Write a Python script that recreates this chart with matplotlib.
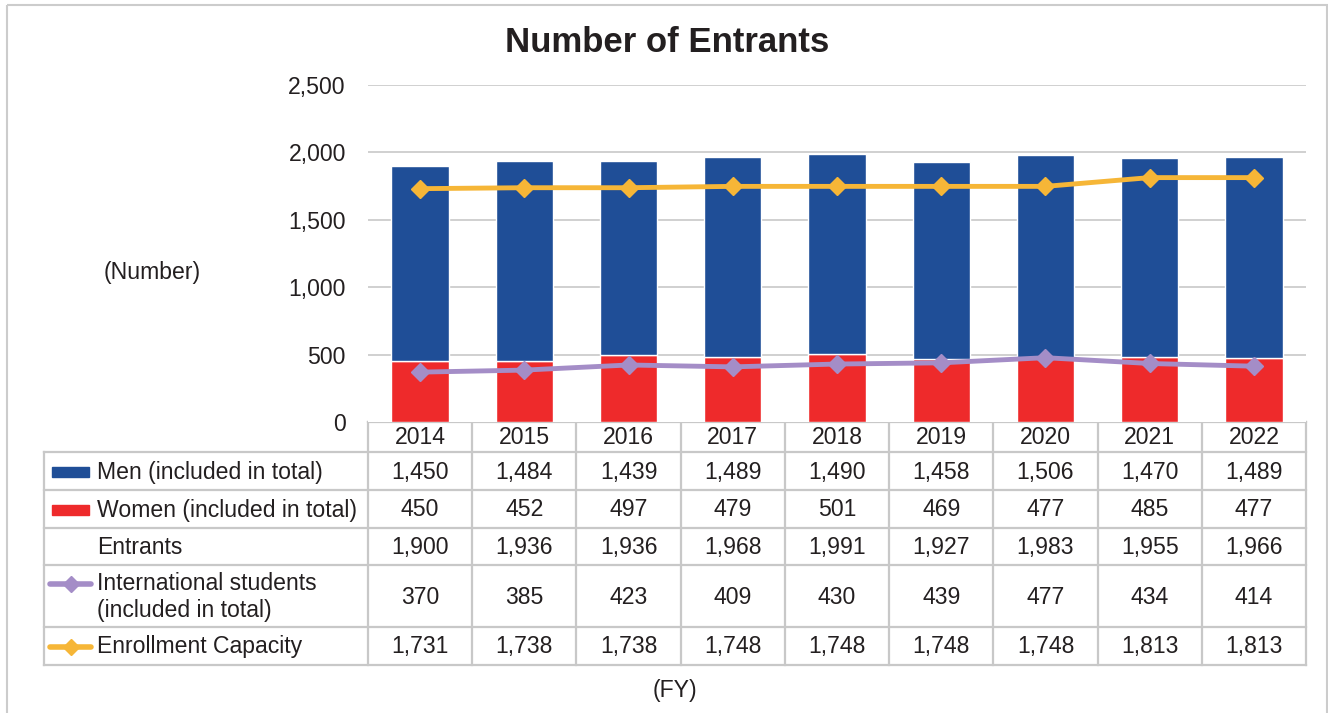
import numpy as np
import matplotlib.pyplot as plt
from matplotlib.patches import Rectangle

plt.rcParams['font.family'] = ['Liberation Sans', 'DejaVu Sans']

years = ['2014', '2015', '2016', '2017', '2018', '2019', '2020', '2021', '2022']
men = [1450, 1484, 1439, 1489, 1490, 1458, 1506, 1470, 1489]
women = [450, 452, 497, 479, 501, 469, 477, 485, 477]
entrants = [1900, 1936, 1936, 1968, 1991, 1927, 1983, 1955, 1966]
intl = [370, 385, 423, 409, 430, 439, 477, 434, 414]
capacity = [1731, 1738, 1738, 1748, 1748, 1748, 1748, 1813, 1813]

c_men = '#1F4E97'
c_women = '#EE2A2B'
c_intl = '#A48DC7'
c_cap = '#F6B637'
c_grid = '#C8C8C8'
c_text = '#231F20'
fs = 16.6

W, H = 1328, 713
fig = plt.figure(figsize=(W / 100, H / 100), dpi=100)

# pixel layout of plot area / table
x0, x1 = 368, 1306
y_zero, y_top = 422, 85
lab_x0 = 44
row_edges = [422, 452, 490, 528, 565, 627, 665]

ax = fig.add_axes([x0 / W, (H - y_zero) / H, (x1 - x0) / W, (y_zero - y_top) / H])
x = np.arange(len(years))
ax.bar(x, women, width=0.55, color=c_women, edgecolor='white', linewidth=1, zorder=2)
ax.bar(x, men, width=0.55, bottom=women, color=c_men, edgecolor='white', linewidth=1, zorder=2)
ax.plot(x, intl, color=c_intl, lw=3.5, marker='D', ms=9, zorder=3)
ax.plot(x, capacity, color=c_cap, lw=3.5, marker='D', ms=9, zorder=3)

ax.set_xlim(-0.5, len(years) - 0.5)
ax.set_ylim(0, 2500)
ax.set_yticks(np.arange(0, 2501, 500))
ax.set_yticklabels([f'{v:,}' for v in range(0, 2501, 500)], fontsize=fs, color=c_text)
ax.tick_params(axis='y', length=0, pad=16)
ax.set_xticks([])
for s in ax.spines.values():
    s.set_visible(False)
for v in range(500, 2501, 500):
    ax.axhline(v, color=c_grid, lw=1.2, zorder=1)

# overlay in pixel coordinates for table, titles, border
ov = fig.add_axes([0, 0, 1, 1], zorder=-1)
ov.set_xlim(0, W)
ov.set_ylim(H, 0)
ov.axis('off')

ov.add_patch(Rectangle((7, 5), 1320, 720, fill=False, edgecolor='#CCCCCC', lw=1.5))

ov.text(667, 43, 'Number of Entrants', ha='center', va='center', fontsize=25,
        fontweight='bold', color=c_text)
ov.text(152, 272, '(Number)', ha='center', va='center', fontsize=fs, color=c_text)
ov.text(675, 690, '(FY)', ha='center', va='center', fontsize=fs, color=c_text)

col_w = (x1 - x0) / len(years)
lc = '#C8C8C8'
lw_t = 1.6
# horizontal lines
ov.plot([x0, x1], [row_edges[0]] * 2, color=lc, lw=lw_t)
for ye in row_edges[1:]:
    ov.plot([lab_x0, x1], [ye, ye], color=lc, lw=lw_t)
# vertical lines
ov.plot([lab_x0, lab_x0], [row_edges[1], row_edges[-1]], color=lc, lw=lw_t)
for i in range(len(years) + 1):
    xe = x0 + i * col_w
    ov.plot([xe, xe], [row_edges[0], row_edges[-1]], color=lc, lw=lw_t)

rows = [men, women, entrants, intl, capacity]
for i, yr in enumerate(years):
    cx = x0 + (i + 0.5) * col_w
    ov.text(cx, (row_edges[0] + row_edges[1]) / 2 + 1, yr, ha='center', va='center',
            fontsize=fs, color=c_text)
    for r, vals in enumerate(rows):
        cy = (row_edges[r + 1] + row_edges[r + 2]) / 2 + 1
        ov.text(cx, cy, f'{vals[i]:,}', ha='center', va='center', fontsize=fs, color=c_text)

labels = ['Men (included in total)', 'Women (included in total)', 'Entrants',
          'International students\n(included in total)', 'Enrollment Capacity']
for r, lab in enumerate(labels):
    cy = (row_edges[r + 1] + row_edges[r + 2]) / 2 + 1
    ov.text(97, cy, lab, ha='left', va='center', fontsize=fs, color=c_text, linespacing=1.2)
    if r == 0:
        ov.add_patch(Rectangle((52, cy - 5), 37, 10, color=c_men))
    elif r == 1:
        ov.add_patch(Rectangle((52, cy - 5), 37, 10, color=c_women))
    elif r in (3, 4):
        col = c_intl if r == 3 else c_cap
        ly = row_edges[r + 1] + 19 if r == 3 else cy
        ov.plot([50, 91], [ly, ly], color=col, lw=4, solid_capstyle='round')
        ov.plot([70.5], [ly], marker='D', ms=8, color=col)

fig.savefig('out.png', dpi=100)
